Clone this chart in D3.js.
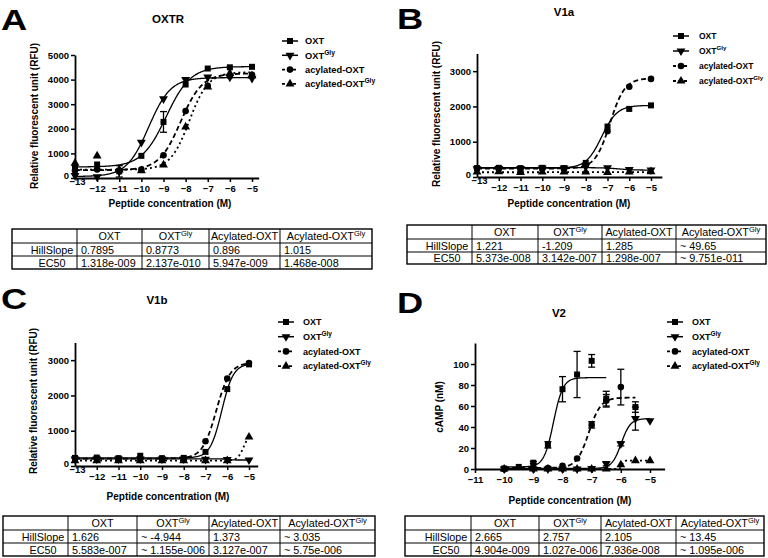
<!DOCTYPE html>
<html><head><meta charset="utf-8">
<script src="https://cdn.jsdelivr.net/npm/d3@7"></script>
<style>
body{margin:0;background:#fff}
svg{display:block}
text{font-family:"Liberation Sans",Arial,Helvetica,sans-serif;fill:#000}
</style>
</head><body>
<svg id="c" width="768" height="558"></svg>
<script>
// ---------- shared labels ----------
const seriesNames = ["OXT", "OXT|Gly", "acylated-OXT", "acylated-OXT|Gly"];
const tableHeaders = ["", "OXT", "OXT|Gly", "Acylated-OXT", "Acylated-OXT|Gly"];
const rowLabels = ["HillSlope", "EC50"];
const xTicksRFU = [-13, -12, -11, -10, -9, -8, -7, -6, -5];
const xTicksV2 = [-11, -10, -9, -8, -7, -6, -5];
const yTicksA = [0, 1000, 2000, 3000, 4000, 5000];
const yTicksBC = [0, 1000, 2000, 3000];
const yTicksD = [0, 20, 40, 60, 80, 100];

// ---------- Panel A : OXTR ----------
const aConc = [-13, -12, -11, -10, -9, -8, -7, -6, -5];
const aOXT = [450, 550, 270, 900, 2280, 3800, 4450, 4500, 4520];
const aOXTErr = [0, 0, 230, 0, 420, 0, 0, 0, 0];
const aOXTGly = [100, 50, 260, 1450, 3220, 4000, 4100, 4100, 4050];
const aAcylOXT = [300, 350, 300, 340, 920, 2720, 3750, 4150, 4200];
const aAcylOXTGly = [600, 900, 330, 300, 530, 2080, 3700, 4250, 4150];
const aHill = ["0.7895", "0.8773", "0.896", "1.015"];
const aEC50 = ["1.318e-009", "2.137e-010", "5.947e-009", "1.468e-008"];
const aBottom = [450, 60, 320, 340];
const aTop = [4530, 4080, 4250, 4300];

// ---------- Panel B : V1a ----------
const bConc = [-13, -12, -11, -10, -9, -8, -7, -6, -5];
const bOXT = [250, 260, 250, 260, 250, 400, 1430, 1930, 2030];
const bOXTGly = [230, 240, 240, 250, 250, 300, 260, 210, 200];
const bAcylOXT = [250, 250, 240, 250, 230, 330, 1300, 2560, 2780];
const bAcylOXTGly = [140, 150, 130, 140, 140, 140, 130, 140, 150];
const bHill = ["1.221", "-1.209", "1.285", "~ 49.65"];
const bEC50 = ["5.373e-008", "3.142e-007", "1.298e-007", "~ 9.751e-011"];
const bBottom = [250, 195, 240, 135];
const bTop = [2030, 265, 2800, 140];

// ---------- Panel C : V1b ----------
const cConc = [-13, -12, -11, -10, -9, -8, -7, -6, -5];
const cOXT = [230, 240, 220, 290, 220, 230, 400, 2180, 2880];
const cOXTGly = [200, 200, 200, 200, 200, 200, 190, 180, 170];
const cAcylOXT = [220, 220, 210, 210, 210, 200, 700, 2480, 2920];
const cAcylOXTGly = [150, 150, 150, 150, 150, 150, 150, 150, 820];
const cHill = ["1.626", "~ -4.944", "1.373", "~ 3.035"];
const cEC50 = ["5.583e-007", "~ 1.155e-006", "3.127e-007", "~ 5.75e-006"];
const cBottom = [230, 170, 210, 150];
const cTop = [2900, 200, 2930, 945];

// ---------- Panel D : V2 ----------
const dConc = [-10, -9.5, -9, -8.5, -8, -7.5, -7, -6.5, -6, -5.5, -5];
const dOXT = [0.5, 2, 6, 23, 76, 90, 103, 67, null, 59, null];
const dOXTErr = [0, 0, 1, 3, 12, 22, 6, 7, 0, 5, 0];
const dOXTGly = [0, null, 0, 0, 0, 0, 0.5, 5, 24, 48, 46];
const dOXTGlyErr = [0, 0, 0, 0, 0, 0, 0, 2, 2, 11, 0];
const dAcylOXT = [0, null, 1, 1, 3, 10, 42, 65, 78, null, null];
const dAcylOXTErr = [0, 0, 0, 0, 0, 0, 3, 6, 17, 0, 0];
const dAcylOXTGly = [0, null, 0, 0, 0, 0, 0, 0, 4, 8, 8];
const dHill = ["2.665", "2.757", "2.105", "~ 13.45"];
const dEC50 = ["4.904e-009", "1.027e-006", "7.936e-008", "~ 1.095e-006"];
const dBottom = [2, 0.5, 1, 0];
const dTop = [87, 48, 68, 8];
const dFitEnd = [-6.5, -5, -5.5, -5];

// ---------- drawing ----------
const svg = d3.select("#c");
const markerKinds = ["square", "down", "circle", "up"];
const dashes = [null, null, "5,3", "2,3"];

function markerPath(kind) {
  if (kind === "square") return d3.symbol(d3.symbolSquare, 36)();
  if (kind === "circle") return d3.symbol(d3.symbolCircle, 34)();
  return d3.symbol(d3.symbolTriangle, 34)();
}
function addMarker(g, kind, x, y) {
  const p = g.append("path").attr("d", markerPath(kind)).attr("fill", "#000");
  p.attr("transform", `translate(${x},${y})` + (kind === "down" ? " rotate(180)" : ""));
}
function supText(sel, str, supSize) {
  const parts = str.split("|");
  sel.append("tspan").text(parts[0]);
  if (parts.length > 1) {
    sel.append("tspan").attr("font-size", supSize).attr("dy", -4).text(parts[1]);
  }
}
function parseNum(s) { return parseFloat(s.replace("~", "").trim()); }
function hillCurve(bottom, top, logEC50, hill, x) {
  return bottom + (top - bottom) / (1 + Math.pow(10, (logEC50 - x) * hill));
}

function drawPanel(cfg) {
  const g = svg.append("g");
  const x = d3.scaleLinear().domain(cfg.xDom).range(cfg.xRange);
  const y = d3.scaleLinear().domain(cfg.yDom).range(cfg.yRange);
  const xAxisScale = x.copy().domain([cfg.xDom[0], cfg.xEnd]).range([x(cfg.xDom[0]), x(cfg.xEnd)]);
  const yAxisScale = y.copy().domain([0, cfg.yTop]).range([y(0), y(cfg.yTop)]);

  // curves
  cfg.series.forEach((vals, i) => {
    const lo = cfg.fitStart, hi = cfg.fitEnd ? cfg.fitEnd[i] : cfg.xDom[1];
    const le = Math.log10(parseNum(cfg.ec50[i]));
    const h = parseNum(cfg.hill[i]);
    const pts = d3.range(lo, hi + 0.0001, 0.02).map(v => [v, hillCurve(cfg.bottom[i], cfg.top[i], le, h, v)]);
    g.append("path").datum(pts)
      .attr("d", d3.line().x(d => x(d[0])).y(d => y(d[1])))
      .attr("fill", "none").attr("stroke", "#000")
      .attr("stroke-width", i >= 2 ? 1.8 : 1.3)
      .attr("stroke-dasharray", dashes[i]);
  });

  // error bars + markers
  cfg.series.forEach((vals, i) => {
    const errs = cfg.errs[i];
    vals.forEach((v, j) => {
      if (v === null) return;
      const cx = x(cfg.conc[j]), cy = y(v);
      if (errs && errs[j] > 0) {
        const y1 = y(v + errs[j]), y2 = y(v - errs[j]);
        g.append("line").attr("x1", cx).attr("x2", cx).attr("y1", y1).attr("y2", y2).attr("stroke", "#000").attr("stroke-width", 1.3);
        [y1, y2].forEach(yy => g.append("line").attr("x1", cx - 3.5).attr("x2", cx + 3.5).attr("y1", yy).attr("y2", yy).attr("stroke", "#000").attr("stroke-width", 1.3));
      }
      addMarker(g, markerKinds[i], cx, cy);
    });
  });

  // axes
  const xa = g.append("g").attr("transform", `translate(0,${y(0)})`)
    .call(d3.axisBottom(xAxisScale).tickValues(cfg.xTicks).tickSize(4).tickSizeOuter(0).tickPadding(3).tickFormat(d3.format("d")));
  const ya = g.append("g").attr("transform", `translate(${x(cfg.xDom[0])},0)`)
    .call(d3.axisLeft(yAxisScale).tickValues(cfg.yTicks).tickSize(4).tickSizeOuter(0).tickPadding(2).tickFormat(d3.format("d")));
  [xa, ya].forEach(a => {
    a.select(".domain").attr("stroke", "#000").attr("stroke-width", 1.8);
    a.selectAll(".tick line").attr("stroke", "#000").attr("stroke-width", 1.5);
    a.selectAll("text").attr("font-size", 9.5).attr("font-weight", "bold").attr("font-family", '"Liberation Sans",Arial,sans-serif').attr("fill", "#000");
  });
  xa.selectAll(".tick text").text(d => d3.format("d")(d).replace("-", "-"));
  if (cfg.raiseFirst) {
    xa.selectAll(".tick").filter(d => d === cfg.xDom[0]).select("line").remove();
    xa.selectAll(".tick").filter(d => d === cfg.xDom[0]).select("text").attr("y", 0).attr("dy", "0.71em").attr("x", 2);
    ya.selectAll(".tick").filter(d => d === 0).select("text").attr("dy", "0.1em");
  }

  // titles
  g.append("text").attr("x", cfg.letter[0]).attr("y", cfg.letter[1]).attr("font-size", 29).attr("font-weight", "bold")
    .attr("transform", `translate(${cfg.letter[0]},0) scale(1.25,1) translate(${-cfg.letter[0]},0)`).text(cfg.letterText);
  g.append("text").attr("x", cfg.title[0]).attr("y", cfg.title[1]).attr("text-anchor", "middle").attr("font-size", 11.5).attr("font-weight", "bold").text(cfg.titleText);
  g.append("text").attr("x", cfg.xLabel[0]).attr("y", cfg.xLabel[1]).attr("text-anchor", "middle").attr("font-size", 10).attr("font-weight", "bold").text("Peptide concentration (M)");
  g.append("text").attr("transform", `translate(${cfg.yLabel[0]},${cfg.yLabel[1]}) rotate(-90)`).attr("text-anchor", "middle").attr("font-size", 10).attr("font-weight", "bold").text(cfg.yLabelText);

  // legend
  seriesNames.forEach((name, i) => {
    const ly = cfg.legend[1] + i * cfg.legend[3];
    const lx = cfg.legend[0];
    const ll = g.append("line").attr("x1", lx).attr("x2", lx + 16).attr("y1", ly).attr("y2", ly).attr("stroke", "#000").attr("stroke-width", i >= 2 ? 1.8 : 1.5);
    if (i === 2) ll.attr("stroke-dasharray", "3,2.5");
    if (i === 3) ll.attr("stroke-dasharray", "3,2.5");
    addMarker(g, markerKinds[i], lx + 8, ly);
    const t = g.append("text").attr("x", cfg.legend[2]).attr("y", ly + 3.3).attr("font-size", cfg.legend[4]).attr("font-weight", "bold");
    supText(t, name, cfg.legend[4] * 0.72);
  });

  // table
  drawTable(cfg.tableX, cfg.tableY, cfg.hill, cfg.ec50);
}

function drawTable(cols, rows, hill, ec50) {
  const g = svg.append("g");
  cols.slice(1, -1).forEach(cx => g.append("line").attr("x1", cx).attr("x2", cx).attr("y1", rows[0]).attr("y2", rows[3]).attr("stroke", "#000").attr("stroke-width", 1));
  rows.slice(1, -1).forEach(ry => g.append("line").attr("x1", cols[0]).attr("x2", cols[5]).attr("y1", ry).attr("y2", ry).attr("stroke", "#000").attr("stroke-width", 1));
  g.append("rect").attr("x", cols[0]).attr("y", rows[0]).attr("width", cols[5] - cols[0]).attr("height", rows[3] - rows[0])
    .attr("fill", "none").attr("stroke", "#000").attr("stroke-width", 1.4);
  const fs = 10.8;
  tableHeaders.forEach((h, k) => {
    if (!h) return;
    const t = g.append("text").attr("x", (cols[k] + cols[k + 1]) / 2).attr("y", rows[1] - 3).attr("text-anchor", "middle").attr("font-size", fs);
    supText(t, h, 7.5);
  });
  [hill, ec50].forEach((vals, r) => {
    const by = rows[r + 2] - 2.5;
    g.append("text").attr("x", cols[1] - 25).attr("y", by).attr("text-anchor", "middle").attr("font-size", fs).text(rowLabels[r]);
    vals.forEach((v, k) => {
      g.append("text").attr("x", cols[k + 1] + 4).attr("y", by).attr("font-size", fs).text(v);
    });
  });
}

const rfuLabel = "Relative fluorescent unit (RFU)";
drawPanel({
  conc: aConc, series: [aOXT, aOXTGly, aAcylOXT, aAcylOXTGly], errs: [aOXTErr, null, null, null],
  hill: aHill, ec50: aEC50, bottom: aBottom, top: aTop, fitStart: -13,
  xDom: [-13, -5], xRange: [75, 252], xEnd: -4.7, yDom: [0, 5000], yRange: [178, 55], yTop: 5000,
  xTicks: xTicksRFU, yTicks: yTicksA, raiseFirst: true,
  letter: [1, 30], letterText: "A", title: [168, 23], titleText: "OXTR",
  xLabel: [170, 207], yLabel: [38, 116], yLabelText: rfuLabel,
  legend: [282, 41, 305, 14.3, 9.3],
  tableX: [12, 77, 142, 209, 280, 372], tableY: [229, 243, 256, 269]
});
drawPanel({
  conc: bConc, series: [bOXT, bOXTGly, bAcylOXT, bAcylOXTGly], errs: [null, null, null, null],
  hill: bHill, ec50: bEC50, bottom: bBottom, top: bTop, fitStart: -13,
  xDom: [-13, -5], xRange: [477, 651], xEnd: -4.5, yDom: [0, 3500], yRange: [177, 53.5], yTop: 3500,
  xTicks: xTicksRFU, yTicks: yTicksBC, raiseFirst: true,
  letter: [397, 29], letterText: "B", title: [564, 16], titleText: "V1a",
  xLabel: [569, 207], yLabel: [440, 114], yLabelText: rfuLabel,
  legend: [673, 36, 699, 15, 8.5],
  tableX: [407, 472, 538, 602, 676, 766], tableY: [225, 239, 252, 264]
});
drawPanel({
  conc: cConc, series: [cOXT, cOXTGly, cAcylOXT, cAcylOXTGly], errs: [null, null, null, null],
  hill: cHill, ec50: cEC50, bottom: cBottom, top: cTop, fitStart: -13,
  xDom: [-13, -5], xRange: [75, 249], xEnd: -4.6, yDom: [0, 3500], yRange: [466, 342.5], yTop: 3500,
  xTicks: xTicksRFU, yTicks: yTicksBC, raiseFirst: true,
  letter: [1, 309], letterText: "C", title: [157, 304], titleText: "V1b",
  xLabel: [168, 500], yLabel: [37, 401], yLabelText: rfuLabel,
  legend: [278, 322, 303, 14.7, 9],
  tableX: [3, 68, 137, 209, 280, 375], tableY: [516, 530, 543, 556]
});
drawPanel({
  conc: dConc, series: [dOXT, dOXTGly, dAcylOXT, dAcylOXTGly], errs: [dOXTErr, dOXTGlyErr, dAcylOXTErr, null],
  hill: dHill, ec50: dEC50, bottom: dBottom, top: dTop, fitStart: -10, fitEnd: dFitEnd,
  xDom: [-11, -5], xRange: [475, 650], xEnd: -4.5, yDom: [0, 120], yRange: [469, 343], yTop: 120,
  xTicks: xTicksV2, yTicks: yTicksD, raiseFirst: false,
  letter: [397, 313], letterText: "D", title: [559, 317], titleText: "V2",
  xLabel: [570, 504], yLabel: [443, 407], yLabelText: "cAMP (nM)",
  legend: [667, 322, 692, 14.7, 9],
  tableX: [405, 471, 539, 601, 676, 764], tableY: [516, 530, 543, 556]
});
</script>
</body></html>
